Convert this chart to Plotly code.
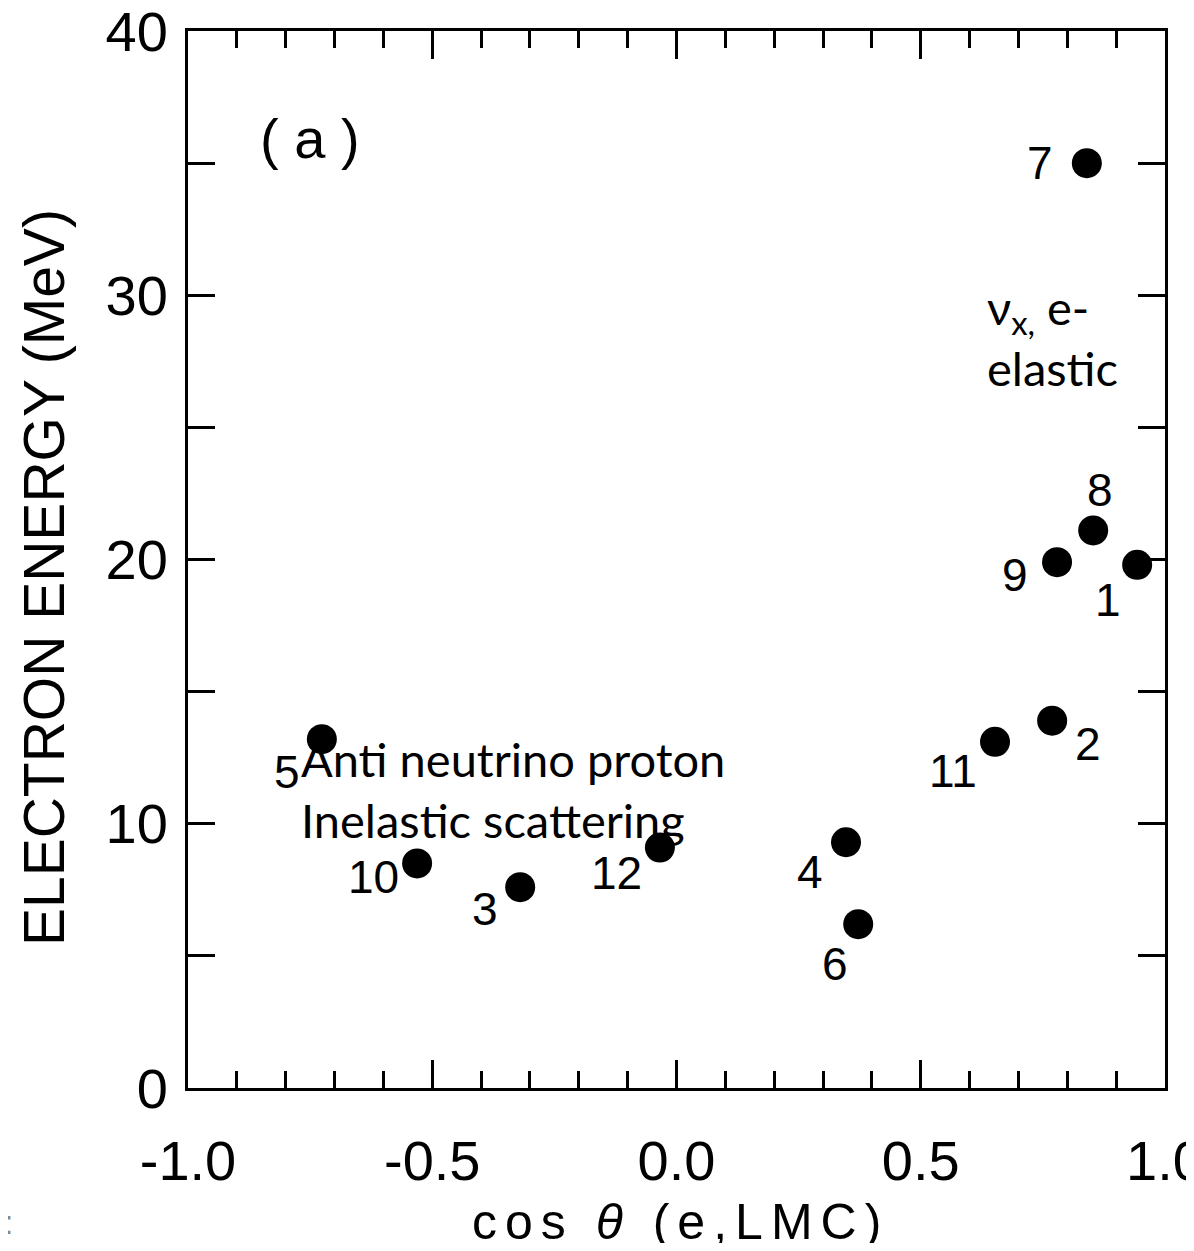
import plotly.graph_objects as go

# ---- data ----
event_ids = ["1", "2", "3", "4", "5", "6", "7", "8", "9", "10", "11", "12"]
cos_theta = [0.943, 0.769, -0.320, 0.347, -0.726, 0.372, 0.840, 0.853, 0.779, -0.531, 0.652, -0.034]
energy_mev = [19.8, 13.9, 7.6, 9.3, 13.2, 6.2, 35.0, 21.1, 19.9, 8.5, 13.1, 9.1]
# label offsets (pixels) of each event number relative to its dot
label_dx = [-29, 36, -35, -36, -35, -23, -47, 7, -42, -44, -42, -43]
label_dy = [-35, -23, -22, -30, -33, -40, 0, 40, -13, -14, -29, -25]

x_tickvals = [-1.0, -0.5, 0.0, 0.5, 1.0]
x_ticktext = ["-1.0", "-0.5", "0.0", "0.5", "1.0"]
y_tickvals = [0, 10, 20, 30, 40]
y_ticktext = ["0", "10", "20", "30", "40"]

FONT = "Liberation Sans, Arial, Helvetica, sans-serif"
NOTE_FONT = "Lato, Carlito, Calibri, sans-serif"

fig = go.Figure()
fig.add_trace(go.Scatter(
    x=cos_theta, y=energy_mev, mode="markers",
    marker=dict(color="black", size=30, line=dict(width=0)),
    showlegend=False, hoverinfo="x+y",
))

annotations = []
for lab, xv, yv, dx, dy in zip(event_ids, cos_theta, energy_mev, label_dx, label_dy):
    annotations.append(dict(
        x=xv, y=yv, xref="x", yref="y", text=lab, showarrow=False,
        xshift=dx, yshift=dy, font=dict(family=FONT, size=46, color="black"),
        xanchor="center", yanchor="middle",
    ))

# panel label
annotations.append(dict(x=0.1249, y=0.898, xref="paper", yref="paper", text="( a )",
                        showarrow=False, font=dict(family=FONT, size=56, color="black"),
                        xanchor="center", yanchor="middle"))
# overlaid notes
annotations.append(dict(x=0.632, y=30.7, xref="x", yref="y",
                        text="ν<sub>x,</sub> e-<br>elastic", align="left",
                        showarrow=False, font=dict(family=NOTE_FONT, size=47, color="black"),
                        xanchor="left", yanchor="top"))
annotations.append(dict(x=-0.772, y=13.6, xref="x", yref="y",
                        text="Anti neutrino proton<br>Inelastic scattering", align="left",
                        showarrow=False, font=dict(family=NOTE_FONT, size=47, color="black"),
                        xanchor="left", yanchor="top"))
# axis titles
xtitle = '<span style="letter-spacing:8px">cos <i>θ</i> (e,LMC)</span>'
annotations.append(dict(x=0.5046, y=-0.1268, xref="paper", yref="paper", text=xtitle,
                        showarrow=False, font=dict(family=FONT, size=50, color="black"),
                        xanchor="center", yanchor="middle"))
annotations.append(dict(x=-0.1474, y=0.4834, xref="paper", yref="paper",
                        text="ELECTRON ENERGY (MeV)", textangle=-90,
                        showarrow=False, font=dict(family=FONT, size=57, color="black"),
                        xanchor="center", yanchor="middle"))
annotations.append(dict(x=-0.184, y=-0.127, xref="paper", yref="paper", text=":",
                        showarrow=False, font=dict(family=FONT, size=34, color="#888888"),
                        xanchor="center", yanchor="middle"))

fig.update_layout(
    width=1178, height=1235,
    margin=dict(l=180, r=21, t=23, b=155, autoexpand=False),
    paper_bgcolor="white", plot_bgcolor="white",
    annotations=annotations,
    xaxis=dict(
        range=[-1.0, 1.0], tickvals=x_tickvals, ticktext=x_ticktext,
        showgrid=False, zeroline=False,
        showline=True, linecolor="black", linewidth=3, mirror="ticks",
        ticks="inside", ticklen=28, tickwidth=3, tickcolor="black",
        minor=dict(dtick=0.1, tick0=0, ticks="inside", ticklen=17, tickwidth=3, tickcolor="black", showgrid=False),
        tickfont=dict(family=FONT, size=56, color="black"),
        ticklabelstandoff=22, ticklabeloverflow="allow",
    ),
    yaxis=dict(
        range=[0, 40], tickvals=y_tickvals, ticktext=y_ticktext,
        showgrid=False, zeroline=False,
        showline=True, linecolor="black", linewidth=3, mirror="ticks",
        ticks="inside", ticklen=27, tickwidth=3, tickcolor="black",
        minor=dict(dtick=5, tick0=0, ticks="inside", ticklen=27, tickwidth=3, tickcolor="black", showgrid=False),
        tickfont=dict(family=FONT, size=56, color="black"),
        ticklabelstandoff=6, ticklabeloverflow="allow",
    ),
)

fig.write_html("out.html")
